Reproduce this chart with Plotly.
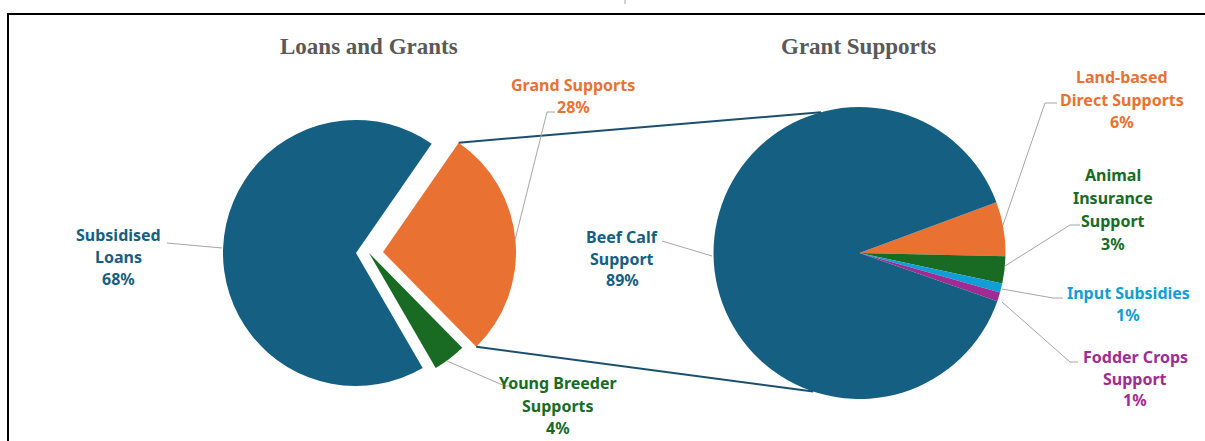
import numpy as np
import plotly.graph_objects as go

W, H = 1205, 441

# Loans and Grants (left pie), drawn clockwise starting with Grand Supports
loan_labels = ["Grand Supports", "Young Breeder Supports", "Subsidised Loans"]
loan_values = [28, 4, 68]
loan_colors = ["#E97132", "#196B24", "#156082"]
loan_text = ["Grand Supports", "Young Breeder\nSupports", "Subsidised\nLoans"]

# Grant Supports (right pie)
grant_labels = ["Land-based Direct Supports", "Animal Insurance Support",
                "Input Subsidies", "Fodder Crops Support", "Beef Calf Support"]
grant_values = [6, 3, 1, 1, 89]
grant_colors = ["#E97132", "#196B24", "#0F9ED5", "#A02B93", "#156082"]
grant_text = ["Land-based\nDirect Supports", "Animal\nInsurance\nSupport",
              "Input Subsidies", "Fodder Crops\nSupport", "Beef Calf\nSupport"]

titles = ["Loans and Grants", "Grant Supports"]


def fx(x):
    return x / W


def fy(y):
    return 1 - y / H


def domain(cx, cy, r):
    return dict(x=[fx(cx - r), fx(cx + r)], y=[fy(cy + r), fy(cy - r)])


def edge(cx, cy, r, ang):
    a = np.radians(ang)
    return cx + r * np.sin(a), cy - r * np.cos(a)


fig = go.Figure()

# left pie: one trace per slice so each slice can be shifted on its own
L_CX, L_CY, L_R, L_ROT = 356, 253, 133, 34.7
shift = [(27, -1), (13, 0), (0, 0)]
for i, (dx, dy) in enumerate(shift):
    cols = [c if j == i else "rgba(0,0,0,0)" for j, c in enumerate(loan_colors)]
    fig.add_trace(go.Pie(
        labels=loan_labels, values=loan_values, sort=False, direction="clockwise",
        rotation=L_ROT, marker=dict(colors=cols), textinfo="none",
        hoverinfo="label+percent", showlegend=False,
        domain=domain(L_CX + dx, L_CY + dy, L_R),
    ))

R_CX, R_CY, R_R, R_ROT = 859.5, 253, 146, 69.7
fig.add_trace(go.Pie(
    labels=grant_labels, values=grant_values, sort=False, direction="clockwise",
    rotation=R_ROT, marker=dict(colors=grant_colors), textinfo="none",
    hoverinfo="label+percent", showlegend=False,
    domain=domain(R_CX, R_CY, R_R),
))

shapes = []
annotations = []

# connector lines from the Grand Supports slice to the second pie
ox, oy = L_CX + shift[0][0], L_CY + shift[0][1]
a_start = L_ROT
a_end = L_ROT + 360 * loan_values[0] / sum(loan_values)
for a_left, a_right in [(a_start, -15.3), (a_end, 198.5)]:
    x0, y0 = edge(ox, oy, L_R, a_left)
    x1, y1 = edge(R_CX, R_CY, R_R, a_right)
    shapes.append(dict(type="line", xref="paper", yref="paper",
                       x0=fx(x0), y0=fy(y0), x1=fx(x1), y1=fy(y1),
                       line=dict(color="#1B4F6E", width=2)))

# label placement: centre x, first line y, line gap, leader path
loan_pos = [
    (573, 85, 22, [(555, 112), (547, 112), (515, 240)]),
    (558, 383, 22.5, [(447, 361), (505, 386), (512, 386)]),
    (118, 235, 22, [(167, 243), (222, 248)]),
]
grant_pos = [
    (1122, 77, 22.5, [(1057, 103), (1045, 103), (1003, 225)]),
    (1113, 175, 23, [(1080, 225), (1070, 225), (1005, 266)]),
    (1128, 293, 22, [(1002, 289), (1053, 298), (1063, 298)]),
    (1135, 357, 21.5, [(1002, 302), (1070, 362), (1078, 362)]),
    (622, 237, 21.5, [(662, 241), (712, 256)]),
]


def add_labels(texts, values, colors, positions):
    total = sum(values)
    for t, v, c, (cx, y0, gap, path) in zip(texts, values, colors, positions):
        lines = t.split("\n") + [f"{v / total * 100:.0f}%"]
        for k, ln in enumerate(lines):
            annotations.append(dict(
                x=fx(cx), y=fy(y0 + k * gap), xref="paper", yref="paper",
                text=f"<b>{ln}</b>", showarrow=False, xanchor="center", yanchor="middle",
                font=dict(family="Noto Sans", size=16, color=c)))
        d = "M " + " L ".join(f"{fx(px)},{fy(py)}" for px, py in path)
        shapes.append(dict(type="path", xref="paper", yref="paper", path=d,
                           line=dict(color="#A6A6A6", width=1)))


add_labels(loan_text, loan_values, loan_colors, loan_pos)
add_labels(grant_text, grant_values, grant_colors, grant_pos)

for t, cx in zip(titles, [369, 858]):
    annotations.append(dict(
        x=fx(cx), y=fy(47), xref="paper", yref="paper", text=f"<b>{t}</b>",
        showarrow=False, xanchor="center", yanchor="middle",
        font=dict(family="Liberation Serif", size=23, color="#595959")))

# chart frame (only the top and left edges fall inside the picture)
shapes.append(dict(type="rect", xref="paper", yref="paper",
                   x0=fx(8), x1=1.02, y0=-0.05, y1=fy(14),
                   line=dict(color="black", width=2)))
shapes.append(dict(type="line", xref="paper", yref="paper",
                   x0=fx(625), x1=fx(625), y0=1, y1=fy(4),
                   line=dict(color="#A6A6A6", width=1)))

fig.update_layout(
    width=W, height=H, autosize=False,
    margin=dict(l=0, r=0, t=0, b=0),
    paper_bgcolor="white", plot_bgcolor="white",
    shapes=shapes, annotations=annotations,
)

# drop the page's default body margin so the figure sits at the window's corner
fig.write_html("out.html", config={"displayModeBar": False},
               post_script="document.body.style.margin='0';")
